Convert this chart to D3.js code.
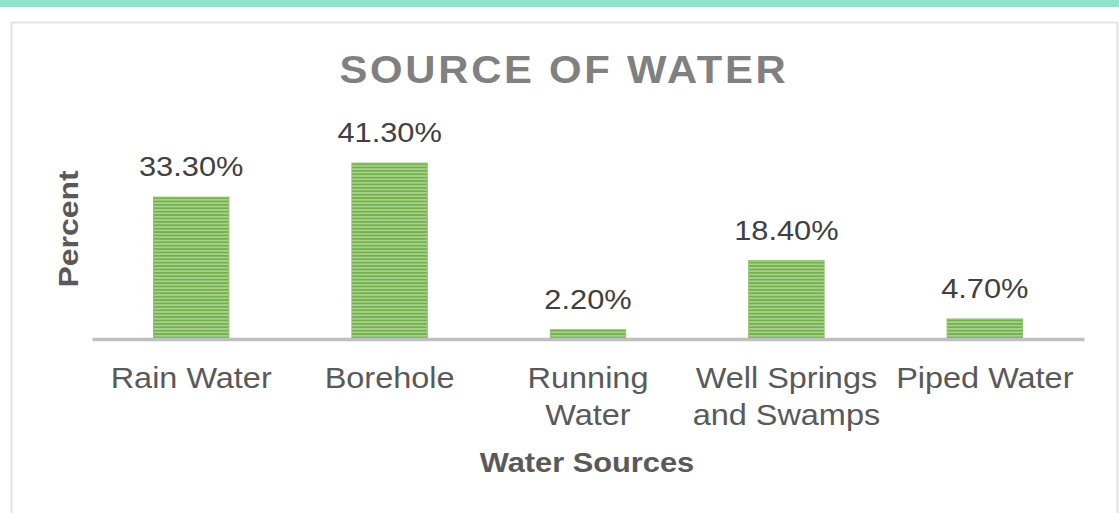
<!DOCTYPE html>
<html>
<head>
<meta charset="utf-8">
<script src="https://cdn.jsdelivr.net/npm/d3@7"></script>
<style>
  body { margin: 0; background: #fff; }
  text { font-family: "Liberation Sans", Arial, sans-serif; }
</style>
</head>
<body>
<div id="chart"></div>
<script>
// chart data
var categories = ["Rain Water", "Borehole", "Running Water", "Well Springs and Swamps", "Piped Water"];
var catLines = [["Rain Water"], ["Borehole"], ["Running", "Water"], ["Well Springs", "and Swamps"], ["Piped Water"]];
var values = [33.3, 41.3, 2.2, 18.4, 4.7];
var valueLabels = ["33.30%", "41.30%", "2.20%", "18.40%", "4.70%"];

var svgWidth = 1119;
var svgHeight = 513;
var sx = 1.1; // text in the picture is a bit wide

var svg = d3.select("#chart")
  .append("svg")
  .attr("width", svgWidth)
  .attr("height", svgHeight);

// stripe pattern for the bars
var defs = svg.append("defs");
var pat = defs.append("pattern")
  .attr("id", "stripes")
  .attr("patternUnits", "userSpaceOnUse")
  .attr("width", 8)
  .attr("height", 3.4);
pat.append("rect").attr("width", 8).attr("height", 3.4).attr("fill", "#a9d18e");
pat.append("rect").attr("width", 8).attr("height", 1.7).attr("fill", "#72b04a");

// top teal band
svg.append("rect")
  .attr("x", 0).attr("y", 0)
  .attr("width", svgWidth).attr("height", 7)
  .attr("fill", "#8fe3c8");

// chart frame
svg.append("rect")
  .attr("x", 11.5).attr("y", 22.5)
  .attr("width", 1106).attr("height", 500)
  .attr("fill", "#fff")
  .attr("stroke", "#e3e3e3")
  .attr("stroke-width", 2);

// scales
var xScale = d3.scaleBand()
  .domain(categories)
  .range([92, 1084])
  .paddingInner(0.62)
  .paddingOuter(0.31);

var yScale = d3.scaleLinear()
  .domain([0, 45])
  .range([339, 147.3]);

// bars
svg.selectAll(".bar")
  .data(values)
  .enter()
  .append("rect")
  .attr("class", "bar")
  .attr("x", (d, i) => xScale(categories[i]))
  .attr("y", d => yScale(d))
  .attr("width", xScale.bandwidth())
  .attr("height", d => yScale(0) - yScale(d))
  .attr("fill", "url(#stripes)")
  .attr("stroke", "#8cc56a")
  .attr("stroke-width", 1);

// axis line
var xAxis = d3.axisBottom(xScale).tickSize(0).tickFormat("");
var axisG = svg.append("g")
  .attr("transform", `translate(0, ${yScale(0)})`)
  .call(xAxis);
axisG.select(".domain")
  .attr("stroke", "#bfbfbf")
  .attr("stroke-width", 3.5);

function cx(i) {
  return xScale(categories[i]) + xScale.bandwidth() / 2;
}

// value labels
svg.selectAll(".vlabel")
  .data(values)
  .enter()
  .append("text")
  .attr("transform", (d, i) => `translate(${cx(i)}, ${yScale(d) - 21}) scale(${sx},1)`)
  .attr("text-anchor", "middle")
  .attr("font-size", "28px")
  .attr("fill", "#404040")
  .text((d, i) => valueLabels[i]);

// category labels
catLines.forEach(function (lines, i) {
  var t = svg.append("text")
    .attr("transform", `translate(${cx(i)}, 388) scale(${sx},1)`)
    .attr("text-anchor", "middle")
    .attr("font-size", "29.5px")
    .attr("fill", "#595959");
  lines.forEach(function (ln, j) {
    t.append("tspan")
      .attr("x", 0)
      .attr("y", j * 37)
      .text(ln);
  });
});

// title
svg.append("text")
  .attr("transform", `translate(564, 83) scale(${sx},1)`)
  .attr("text-anchor", "middle")
  .attr("font-size", "38px")
  .attr("font-weight", "bold")
  .attr("letter-spacing", "2.5px")
  .attr("fill", "#808080")
  .text("SOURCE OF WATER");

// axis titles
svg.append("text")
  .attr("transform", `translate(587, 472) scale(${sx},1)`)
  .attr("text-anchor", "middle")
  .attr("font-size", "28px")
  .attr("font-weight", "bold")
  .attr("fill", "#595959")
  .text("Water Sources");

svg.append("text")
  .attr("transform", `translate(78, 229) rotate(-90) scale(1.14,1)`)
  .attr("text-anchor", "middle")
  .attr("font-size", "28px")
  .attr("font-weight", "bold")
  .attr("fill", "#595959")
  .text("Percent");
</script>
</body>
</html>
